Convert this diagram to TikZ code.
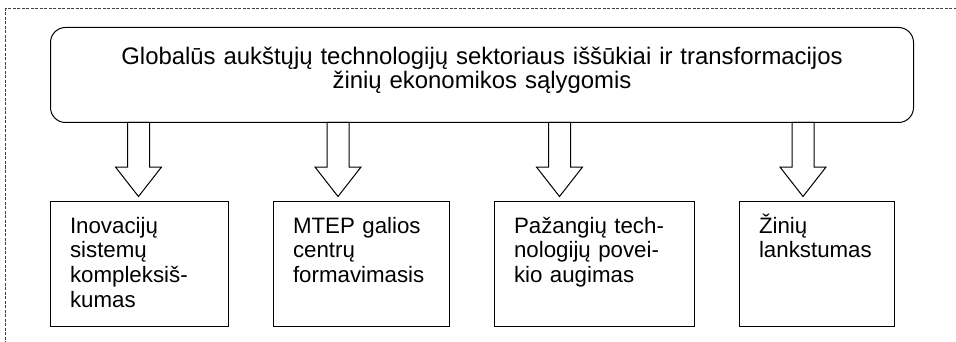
\documentclass[tikz,border=0pt]{standalone}
\usepackage{fontspec}
\setmainfont{Liberation Sans}
\usetikzlibrary{positioning,shapes.arrows}

\tikzset{
  topbox/.style={draw, rounded corners=15pt, line width=1pt,
    inner sep=0pt, text width=863pt, align=center,
    text height=37pt, text depth=58pt,
    font=\fontsize{23.9}{24.3}\selectfont},
  subbox/.style={draw, line width=1pt, inner xsep=19.5pt, inner ysep=0pt,
    align=left, text height=31.7pt, text depth=93.3pt,
    font=\fontsize{22.3}{24.7}\selectfont},
  downarrow/.style={draw, fill=white, line width=1pt, single arrow,
    rotate=-90, anchor=tail, inner xsep=0pt, inner ysep=10.5pt,
    single arrow head extend=12pt, single arrow tip angle=76,
    minimum height=74pt}
}

\begin{document}
\begin{tikzpicture}[x=1pt, y=-1pt]
  \useasboundingbox (0,0) rectangle (956,342);
  \clip (0,0) rectangle (956,342);
  % frame
  \draw [dash pattern=on 3pt off 1.5pt, line width=0.8pt, black!75]
    (5,8) rectangle (1000,400);

  \node [topbox, anchor=north west] (global) at (50,27) {
    Globalūs aukštųjų technologijų sektoriaus iššūkiai ir transformacijos\\
    žinių ekonomikos sąlygomis};

  \node [subbox, text width=139pt, anchor=north west] (innov) at (50,201)
    {Inovacijų\\ sistemų\\ kompleksiš-\\ kumas};
  \node [subbox, text width=137pt, right=44pt of innov] (mtep)
    {MTEP galios\\ centrų\\ formavimasis};
  \node [subbox, text width=161pt, right=44pt of mtep] (tech)
    {Pažangių tech-\\ nologijų povei-\\ kio augimas};
  \node [subbox, text width=116pt, right=44pt of tech] (flex)
    {Žinių\\ lankstumas};

  \foreach \x [count=\i] in {138.5, 338, 559.5, 803}
    \node [downarrow] (arr\i) at (\x,122) {};
\end{tikzpicture}
\end{document}
